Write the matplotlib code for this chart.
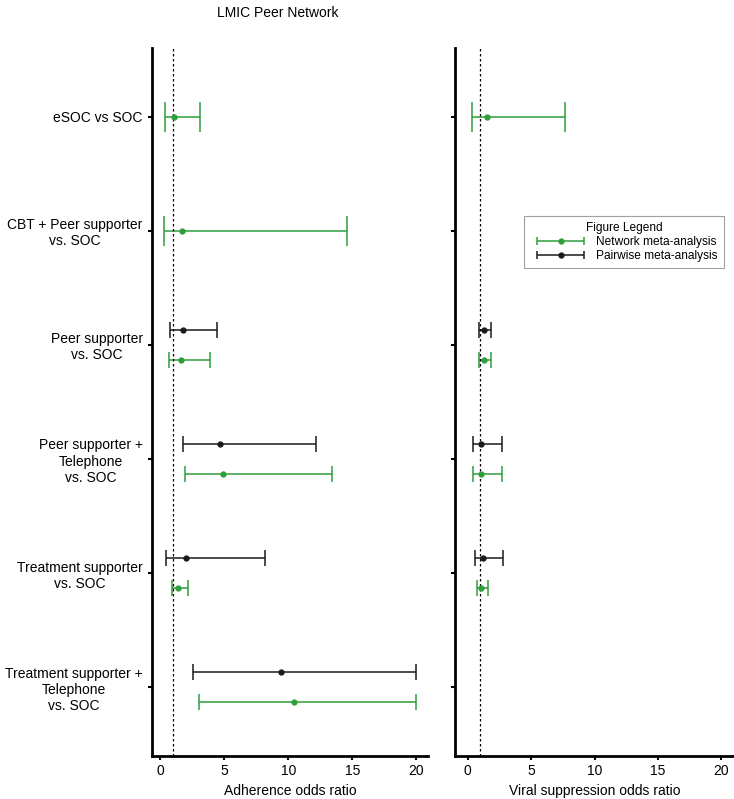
import numpy as np
import matplotlib
matplotlib.use("Agg")
import matplotlib.pyplot as plt
from matplotlib.lines import Line2D
from matplotlib.legend_handler import HandlerErrorbar
from matplotlib.container import ErrorbarContainer

plt.rcParams['font.family'] = ['Liberation Sans', 'DejaVu Sans']
plt.rcParams['font.size'] = 9

# comparisons, top to bottom
comparisons = ["eSOC vs SOC",
               "CBT + Peer supporter\nvs. SOC",
               "Peer supporter\nvs. SOC",
               "Peer supporter +\nTelephone\nvs. SOC",
               "Treatment supporter\nvs. SOC",
               "Treatment supporter +\nTelephone\nvs. SOC"]

# adherence odds ratios (nan = not available)
adh_net_or = [1.12, 1.69, 1.64, 4.88, 1.43, 10.47]
adh_net_lo = [0.39, 0.31, 0.68, 1.92, 0.94, 3.07]
adh_net_hi = [3.12, 14.57, 3.92, 13.43, 2.21, 20.0]
adh_pw_or = [np.nan, np.nan, 1.79, 4.68, 2.00, 9.43]
adh_pw_lo = [np.nan, np.nan, 0.75, 1.82, 0.49, 2.55]
adh_pw_hi = [np.nan, np.nan, 4.44, 12.16, 8.18, 20.0]

# viral suppression odds ratios
vs_net_or = [1.56, np.nan, 1.29, 1.05, 1.05, np.nan]
vs_net_lo = [0.37, np.nan, 0.92, 0.42, 0.71, np.nan]
vs_net_hi = [7.64, np.nan, 1.87, 2.73, 1.58, np.nan]
vs_pw_or = [np.nan, np.nan, 1.29, 1.05, 1.24, np.nan]
vs_pw_lo = [np.nan, np.nan, 0.92, 0.45, 0.58, np.nan]
vs_pw_hi = [np.nan, np.nan, 1.87, 2.73, 2.76, np.nan]

green = '#2e9e3a'
dark = '#1a1a1a'
dodge = 0.13


def forest(ax, net, pw, xlim):
    n_or, n_lo, n_hi = [np.array(a, float) for a in net]
    p_or, p_lo, p_hi = [np.array(a, float) for a in pw]
    ypos = np.arange(1, len(comparisons) + 1)
    handles = {}
    for i, y in enumerate(ypos):
        both = not np.isnan(p_or[i])
        cap = 6 if both else 11
        if both:
            h = ax.errorbar(p_or[i], y - dodge,
                            xerr=[[p_or[i] - p_lo[i]], [p_hi[i] - p_or[i]]],
                            fmt='o', color=dark, ms=3.5, lw=1.1, capsize=cap, capthick=1.1)
            handles['pw'] = h
        if not np.isnan(n_or[i]):
            yy = y + dodge if both else y
            h = ax.errorbar(n_or[i], yy,
                            xerr=[[n_or[i] - n_lo[i]], [n_hi[i] - n_or[i]]],
                            fmt='o', color=green, ms=3.5, lw=1.1, capsize=cap, capthick=1.1)
            if both:
                handles['net'] = h
    ax.axvline(1, color='black', ls=(0, (2, 2)), lw=0.9)
    ax.set_ylim(6.6, 0.4)
    ax.set_xlim(*xlim)
    ax.set_yticks(ypos)
    ax.set_xticks([0, 5, 10, 15, 20])
    for s in ['top', 'right']:
        ax.spines[s].set_visible(False)
    for s in ['left', 'bottom']:
        ax.spines[s].set_linewidth(2)
    ax.tick_params(axis='both', length=3, width=1.5, labelsize=10, colors='black')
    ax.tick_params(axis='x', pad=3)
    return handles


def small_caps(lh, oh):
    lh.update_from(oh)
    if isinstance(oh, Line2D) and oh.get_marker() == '|':
        lh.set_markersize(6)


fig = plt.figure(figsize=(7.34, 7.99), dpi=100)
ax1 = fig.add_axes([0.2067, 0.0542, 0.3764, 0.8857])
ax2 = fig.add_axes([0.6199, 0.0542, 0.3801, 0.8857])

forest(ax1, (adh_net_or, adh_net_lo, adh_net_hi), (adh_pw_or, adh_pw_lo, adh_pw_hi), (-0.65, 20.9))
hd = forest(ax2, (vs_net_or, vs_net_lo, vs_net_hi), (vs_pw_or, vs_pw_lo, vs_pw_hi), (-1.0, 21.0))

ax1.set_yticklabels(comparisons, multialignment='center', fontsize=10)
ax2.set_yticklabels([])
ax1.set_xlabel("Adherence odds ratio", fontsize=10, labelpad=4)
ax2.set_xlabel("Viral suppression odds ratio", fontsize=10, labelpad=4)

fig.text(0.379, 0.993, "LMIC Peer Network", ha='center', va='top', fontsize=10)

leg = fig.legend([hd['net'], hd['pw']], ["Network meta-analysis", "Pairwise meta-analysis"],
                 title="Figure Legend", loc='upper left', bbox_to_anchor=(0.714, 0.730),
                 borderaxespad=0.0,
                 fontsize=8.6, title_fontsize=8.6, frameon=True, fancybox=False,
                 edgecolor='#888888', handlelength=5.0, borderpad=0.55,
                 labelspacing=0.15, handletextpad=0.5,
                 handler_map={ErrorbarContainer: HandlerErrorbar(xerr_size=2.0,
                                                                 update_func=small_caps)})
leg.get_frame().set_linewidth(0.8)
leg._legend_box.align = "center"

fig.savefig("out.png", dpi=100)
